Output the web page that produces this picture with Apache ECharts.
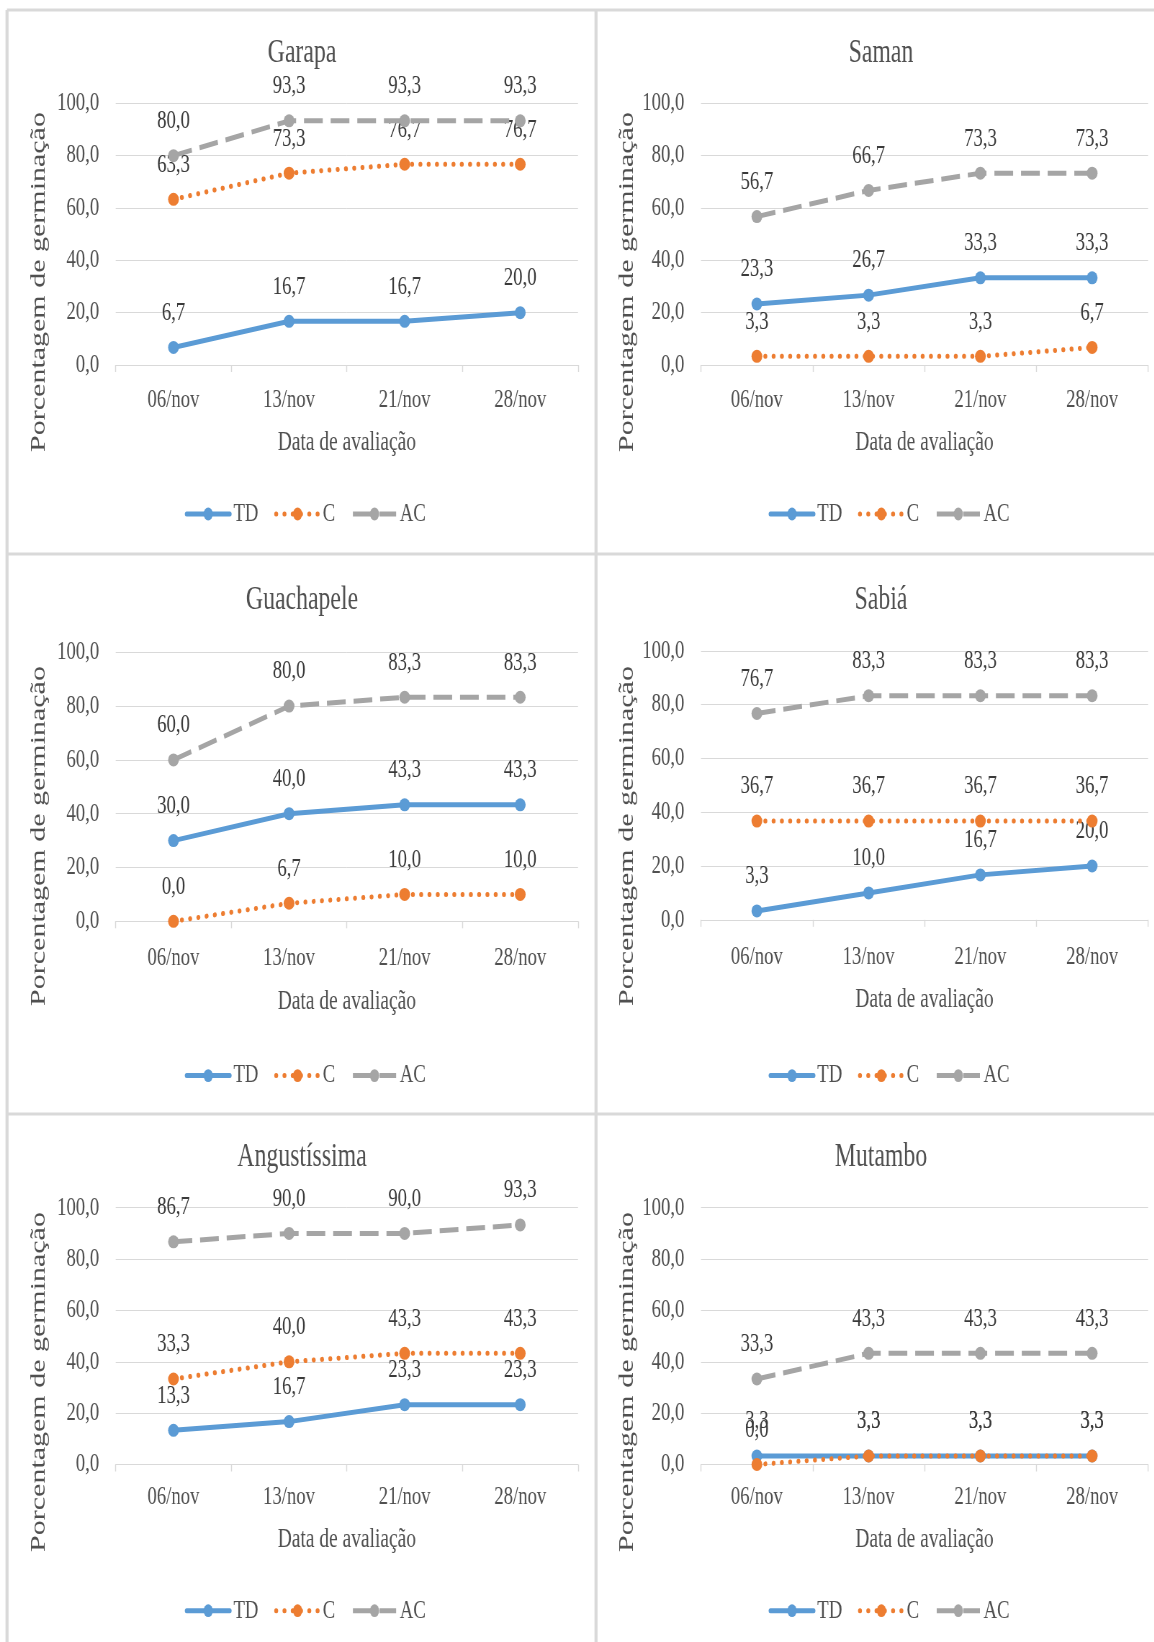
<!DOCTYPE html>
<html>
<head>
<meta charset="utf-8">
<script src="https://cdn.jsdelivr.net/npm/echarts@6/dist/echarts.min.js"></script>
<style>
html, body { margin: 0; padding: 0; overflow: hidden; background: #fff; width: 1154px; height: 1642px; }
#wrap { position: relative; width: 1154px; height: 1642px; overflow: hidden; }
#chart { position: absolute; left: 0; top: 0; width: 1603px; height: 1642px; transform: scaleX(0.72); transform-origin: 0 0; }
</style>
</head>
<body>
<div id="wrap"><div id="chart"></div></div>
<script>
// ---------------- data ----------------
const categories = ['06/nov', '13/nov', '21/nov', '28/nov'];
const yTickValues = [0, 20, 40, 60, 80, 100];
const seriesNames = ['TD', 'C', 'AC'];
const panelTitles = ['Garapa', 'Saman', 'Guachapele', 'Sabiá', 'Angustíssima', 'Mutambo'];
const xAxisTitle = 'Data de avaliação';
const yAxisTitle = 'Porcentagem de germinação';

const garapaTD = [6.7, 16.7, 16.7, 20.0];
const garapaC = [63.3, 73.3, 76.7, 76.7];
const garapaAC = [80.0, 93.3, 93.3, 93.3];

const samanTD = [23.3, 26.7, 33.3, 33.3];
const samanC = [3.3, 3.3, 3.3, 6.7];
const samanAC = [56.7, 66.7, 73.3, 73.3];

const guachapeleTD = [30.0, 40.0, 43.3, 43.3];
const guachapeleC = [0.0, 6.7, 10.0, 10.0];
const guachapeleAC = [60.0, 80.0, 83.3, 83.3];

const sabiaTD = [3.3, 10.0, 16.7, 20.0];
const sabiaC = [36.7, 36.7, 36.7, 36.7];
const sabiaAC = [76.7, 83.3, 83.3, 83.3];

const angustissimaTD = [13.3, 16.7, 23.3, 23.3];
const angustissimaC = [33.3, 40.0, 43.3, 43.3];
const angustissimaAC = [86.7, 90.0, 90.0, 93.3];

const mutamboTD = [3.3, 3.3, 3.3, 3.3];
const mutamboC = [0.0, 3.3, 3.3, 3.3];
const mutamboAC = [33.3, 43.3, 43.3, 43.3];

const panelData = [
  [garapaTD, garapaC, garapaAC],
  [samanTD, samanC, samanAC],
  [guachapeleTD, guachapeleC, guachapeleAC],
  [sabiaTD, sabiaC, sabiaAC],
  [angustissimaTD, angustissimaC, angustissimaAC],
  [mutamboTD, mutamboC, mutamboAC]
];

// ---------------- layout / style ----------------
const K = 1 / 0.72; // horizontal compensation for the condensed look
const FONT = '"Liberation Serif", "Times New Roman", serif';
const colors = ['#5B9BD5', '#ED7D31', '#A5A5A5'];
const lineTypes = ['solid', [0.5, 11], [26, 11]];
const lineCaps = ['round', 'round', 'butt'];
const LW = 5;

const L = {
  colLeft: [115.7 * K, 701 * K],
  colWidth: [462.3 * K, 447 * K],
  rowTop: [[103.3, 103.3], [652.3, 650.8], [1207.7, 1207.7]],
  rowHeight: [261.7, 269, 256.8],
  titleX: [302 * K, 881 * K],
  titleTop: [37, 584, 1141],
  yTitleX: [38.7 * K, 627.3 * K],
  yTitleY: [282, 836, 1382],
  legendLeft: [184.8 * K, 768.6 * K],
  legendTop: [501, 1062.6, 1597.7],
  xLabelMargin: [22, 24, 20],
  xNameGap: [64, 67, 62]
};

const fmt = v => Number(v).toFixed(1).replace('.', ',');

const grids = [], xAxes = [], yAxes = [], series = [], titles = [], legends = [], graphics = [];

panelData.forEach((sets, i) => {
  const col = i % 2, row = Math.floor(i / 2);
  grids.push({
    left: L.colLeft[col], top: L.rowTop[row][col],
    width: L.colWidth[col], height: L.rowHeight[row]
  });
  xAxes.push({
    type: 'category', gridIndex: i, data: categories, boundaryGap: true,
    axisLine: { show: true, lineStyle: { color: '#d9d9d9', width: 1 } },
    axisTick: { show: true, length: 7, lineStyle: { color: '#d9d9d9', width: 1.4 } },
    axisLabel: { color: '#505050', fontSize: 26, fontFamily: FONT, margin: L.xLabelMargin[row] },
    splitLine: { show: false },
    name: xAxisTitle, nameLocation: 'middle', nameGap: L.xNameGap[row],
    nameTextStyle: { color: '#505050', fontSize: 27, fontFamily: FONT }
  });
  yAxes.push({
    type: 'value', gridIndex: i,
    min: yTickValues[0], max: yTickValues[yTickValues.length - 1],
    interval: yTickValues[1] - yTickValues[0],
    axisLine: { show: false }, axisTick: { show: false },
    axisLabel: { color: '#505050', fontSize: 26, fontFamily: FONT, margin: 23, formatter: fmt },
    splitLine: { show: true, lineStyle: { color: '#d9d9d9', width: 1 } }
  });
  sets.forEach((vals, s) => {
    series.push({
      type: 'line', name: seriesNames[s], xAxisIndex: i, yAxisIndex: i,
      data: vals,
      symbol: 'circle', symbolSize: [15, 13],
      itemStyle: { color: colors[s] },
      lineStyle: { color: colors[s], width: LW, type: lineTypes[s], cap: lineCaps[s] },
      label: {
        show: true, position: 'top', distance: 15,
        color: '#3a3a3a', fontSize: 26, fontFamily: FONT,
        formatter: p => fmt(p.value)
      },
      z: 2 + s,
      animation: false
    });
  });
  titles.push({
    text: panelTitles[i], left: L.titleX[col], top: L.titleTop[row], textAlign: 'center',
    padding: 0,
    textStyle: { color: '#505050', fontSize: 33, fontWeight: 'normal', fontFamily: FONT }
  });
  legends.push({
    data: seriesNames, left: L.legendLeft[col], top: L.legendTop[row],
    orient: 'horizontal', itemWidth: 60, itemHeight: 16, itemGap: 22, padding: 0,
    lineStyle: { width: LW },
    textStyle: { color: '#505050', fontSize: 26, fontFamily: FONT }
  });
  graphics.push({
    type: 'text', x: L.yTitleX[col], y: L.yTitleY[row], rotation: Math.PI / 2,
    style: {
      text: yAxisTitle, fill: '#505050', font: '30px ' + FONT,
      textAlign: 'center', textVerticalAlign: 'middle', align: 'center', verticalAlign: 'middle'
    }
  });
});

// panel frames
const frameColor = '#d9d9d9';
[10, 554, 1114].forEach(y => {
  graphics.push({ type: 'line', shape: { x1: 7 * K, y1: y, x2: 1700, y2: y }, style: { stroke: frameColor, lineWidth: 3 } });
});
[7, 596].forEach(x => {
  graphics.push({ type: 'line', shape: { x1: x * K, y1: 10, x2: x * K, y2: 1700 }, style: { stroke: frameColor, lineWidth: 3 * K } });
});

const chart = echarts.init(document.getElementById('chart'), null, { renderer: 'canvas' });
chart.setOption({
  backgroundColor: '#ffffff',
  animation: false,
  textStyle: { fontFamily: FONT },
  title: titles,
  legend: legends,
  grid: grids,
  xAxis: xAxes,
  yAxis: yAxes,
  series: series,
  graphic: graphics
});
</script>
</body>
</html>
